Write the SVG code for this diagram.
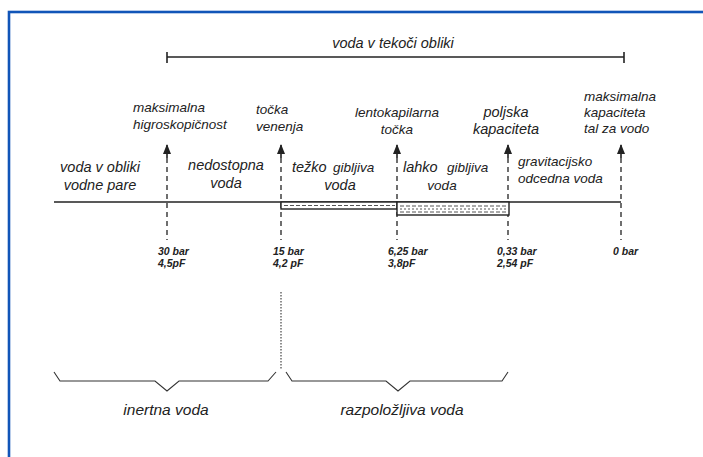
<svg xmlns="http://www.w3.org/2000/svg" width="703" height="457" viewBox="0 0 703 457">
<style>
text{font-family:"Liberation Sans",Arial,sans-serif;font-style:italic;fill:#222;font-size:13.5px}
.b{font-size:14.5px}
.l{font-size:15.5px}
.s{font-size:10.5px;font-weight:bold}
.ax{stroke:#222;stroke-width:1.6;fill:none}
.dash{stroke:#222;stroke-width:1.3;stroke-dasharray:5 4;fill:none}
.dot{stroke:#444;stroke-width:1.2;stroke-dasharray:1.5 1.5;fill:none}
.br{stroke:#333;stroke-width:1.1;fill:none}
</style>
<defs>
<marker id="ah" viewBox="0 0 10 8" refX="9" refY="4" markerWidth="10" markerHeight="8" orient="auto-start-reverse" markerUnits="userSpaceOnUse">
<path d="M0,0 L10,4 L0,8 Z" fill="#222"/>
</marker>
</defs>
<rect x="0" y="0" width="703" height="457" fill="#fff"/>
<rect x="9" y="12" width="720" height="470" fill="none" stroke="#1155b8" stroke-width="2.6"/>

<g id="range-top">
<text class="b" x="393" y="48" text-anchor="middle">voda v tekoči obliki</text>
<line class="ax" x1="167" y1="57" x2="624" y2="57"/>
<line class="ax" x1="167" y1="52" x2="167" y2="63"/>
<line class="ax" x1="624" y1="52" x2="624" y2="63"/>
</g>

<g id="connectors">
<line class="ax" x1="54" y1="202" x2="621" y2="202"/>
<line class="ax" x1="167" y1="145" x2="167" y2="158" marker-start="url(#ah)"/>
<line class="ax" x1="281" y1="145" x2="281" y2="158" marker-start="url(#ah)"/>
<line class="ax" x1="397" y1="145" x2="397" y2="158" marker-start="url(#ah)"/>
<line class="ax" x1="508" y1="145" x2="508" y2="158" marker-start="url(#ah)"/>
<line class="ax" x1="621" y1="145" x2="621" y2="158" marker-start="url(#ah)"/>
<line class="dash" x1="167" y1="158" x2="167" y2="240"/>
<line class="dash" x1="281" y1="158" x2="281" y2="240"/>
<line class="dash" x1="397" y1="158" x2="397" y2="240"/>
<line class="dash" x1="508" y1="158" x2="508" y2="240"/>
<line class="dash" x1="621" y1="158" x2="621" y2="240"/>
<line class="dot" x1="281" y1="292" x2="281" y2="370"/>
</g>

<g id="boxes">
<rect x="281" y="202" width="116" height="7" fill="#fff" stroke="#222" stroke-width="1.4"/>
<line x1="284" y1="205.5" x2="395" y2="205.5" stroke="#555" stroke-width="1" stroke-dasharray="4 2"/>
<rect x="397" y="202" width="112" height="13" fill="#fff" stroke="#222" stroke-width="1.4"/>
<line x1="400" y1="206" x2="507" y2="206" stroke="#555" stroke-width="1" stroke-dasharray="4 2"/>
<line x1="400" y1="209" x2="507" y2="209" stroke="#555" stroke-width="1" stroke-dasharray="2 2"/>
<line x1="400" y1="212" x2="507" y2="212" stroke="#555" stroke-width="1" stroke-dasharray="4 2"/>
</g>

<g id="n-max-higro">
<text x="133" y="112">maksimalna</text>
<text x="133" y="129">higroskopičnost</text>
<text class="s" x="158" y="255">30 bar</text>
<text class="s" x="158" y="267">4,5pF</text>
</g>
<g id="n-tocka-venenja">
<text x="256" y="114">točka</text>
<text x="256" y="131">venenja</text>
<text class="s" x="273" y="255">15 bar</text>
<text class="s" x="273" y="267">4,2 pF</text>
</g>
<g id="n-lentokapilarna">
<text x="397" y="117" text-anchor="middle">lentokapilarna</text>
<text x="397" y="134" text-anchor="middle">točka</text>
<text class="s" x="388" y="255">6,25 bar</text>
<text class="s" x="388" y="267">3,8pF</text>
</g>
<g id="n-poljska">
<text class="b" x="506" y="117" text-anchor="middle">poljska</text>
<text class="b" x="506" y="134" text-anchor="middle">kapaciteta</text>
<text class="s" x="497" y="255">0,33 bar</text>
<text class="s" x="497" y="267">2,54 pF</text>
</g>
<g id="n-max-kap">
<text x="584" y="101">maksimalna</text>
<text x="584" y="117">kapaciteta</text>
<text x="584" y="133">tal za vodo</text>
<text class="s" x="613" y="255">0 bar</text>
</g>

<g id="z-pare">
<text class="b" x="100" y="172" text-anchor="middle">voda v obliki</text>
<text class="b" x="100" y="190" text-anchor="middle">vodne pare</text>
</g>
<g id="z-nedostopna">
<text class="b" x="226" y="170" text-anchor="middle">nedostopna</text>
<text class="b" x="226" y="188" text-anchor="middle">voda</text>
</g>
<g id="z-tezko">
<text class="b" x="292" y="172">težko</text>
<text x="333" y="172">gibljiva</text>
<text class="b" x="340" y="190" text-anchor="middle">voda</text>
</g>
<g id="z-lahko">
<text class="b" x="403" y="172">lahko</text>
<text x="447" y="172">gibljiva</text>
<text x="442" y="190" text-anchor="middle">voda</text>
</g>
<g id="z-grav">
<text x="518" y="166">gravitacijsko</text>
<text x="518" y="183">odcedna voda</text>
</g>

<g id="inertna">
<path class="br" d="M54,372 L60,381 L155,381 L167,391 L179,381 L268,381 L276,372"/>
<text class="l" x="166" y="415" text-anchor="middle">inertna voda</text>
</g>
<g id="razpolozljiva">
<path class="br" d="M286,372 L292,381 L386,381 L398,391 L410,381 L502,381 L508,372"/>
<text class="l" x="402" y="415" text-anchor="middle">razpoložljiva voda</text>
</g>
</svg>
